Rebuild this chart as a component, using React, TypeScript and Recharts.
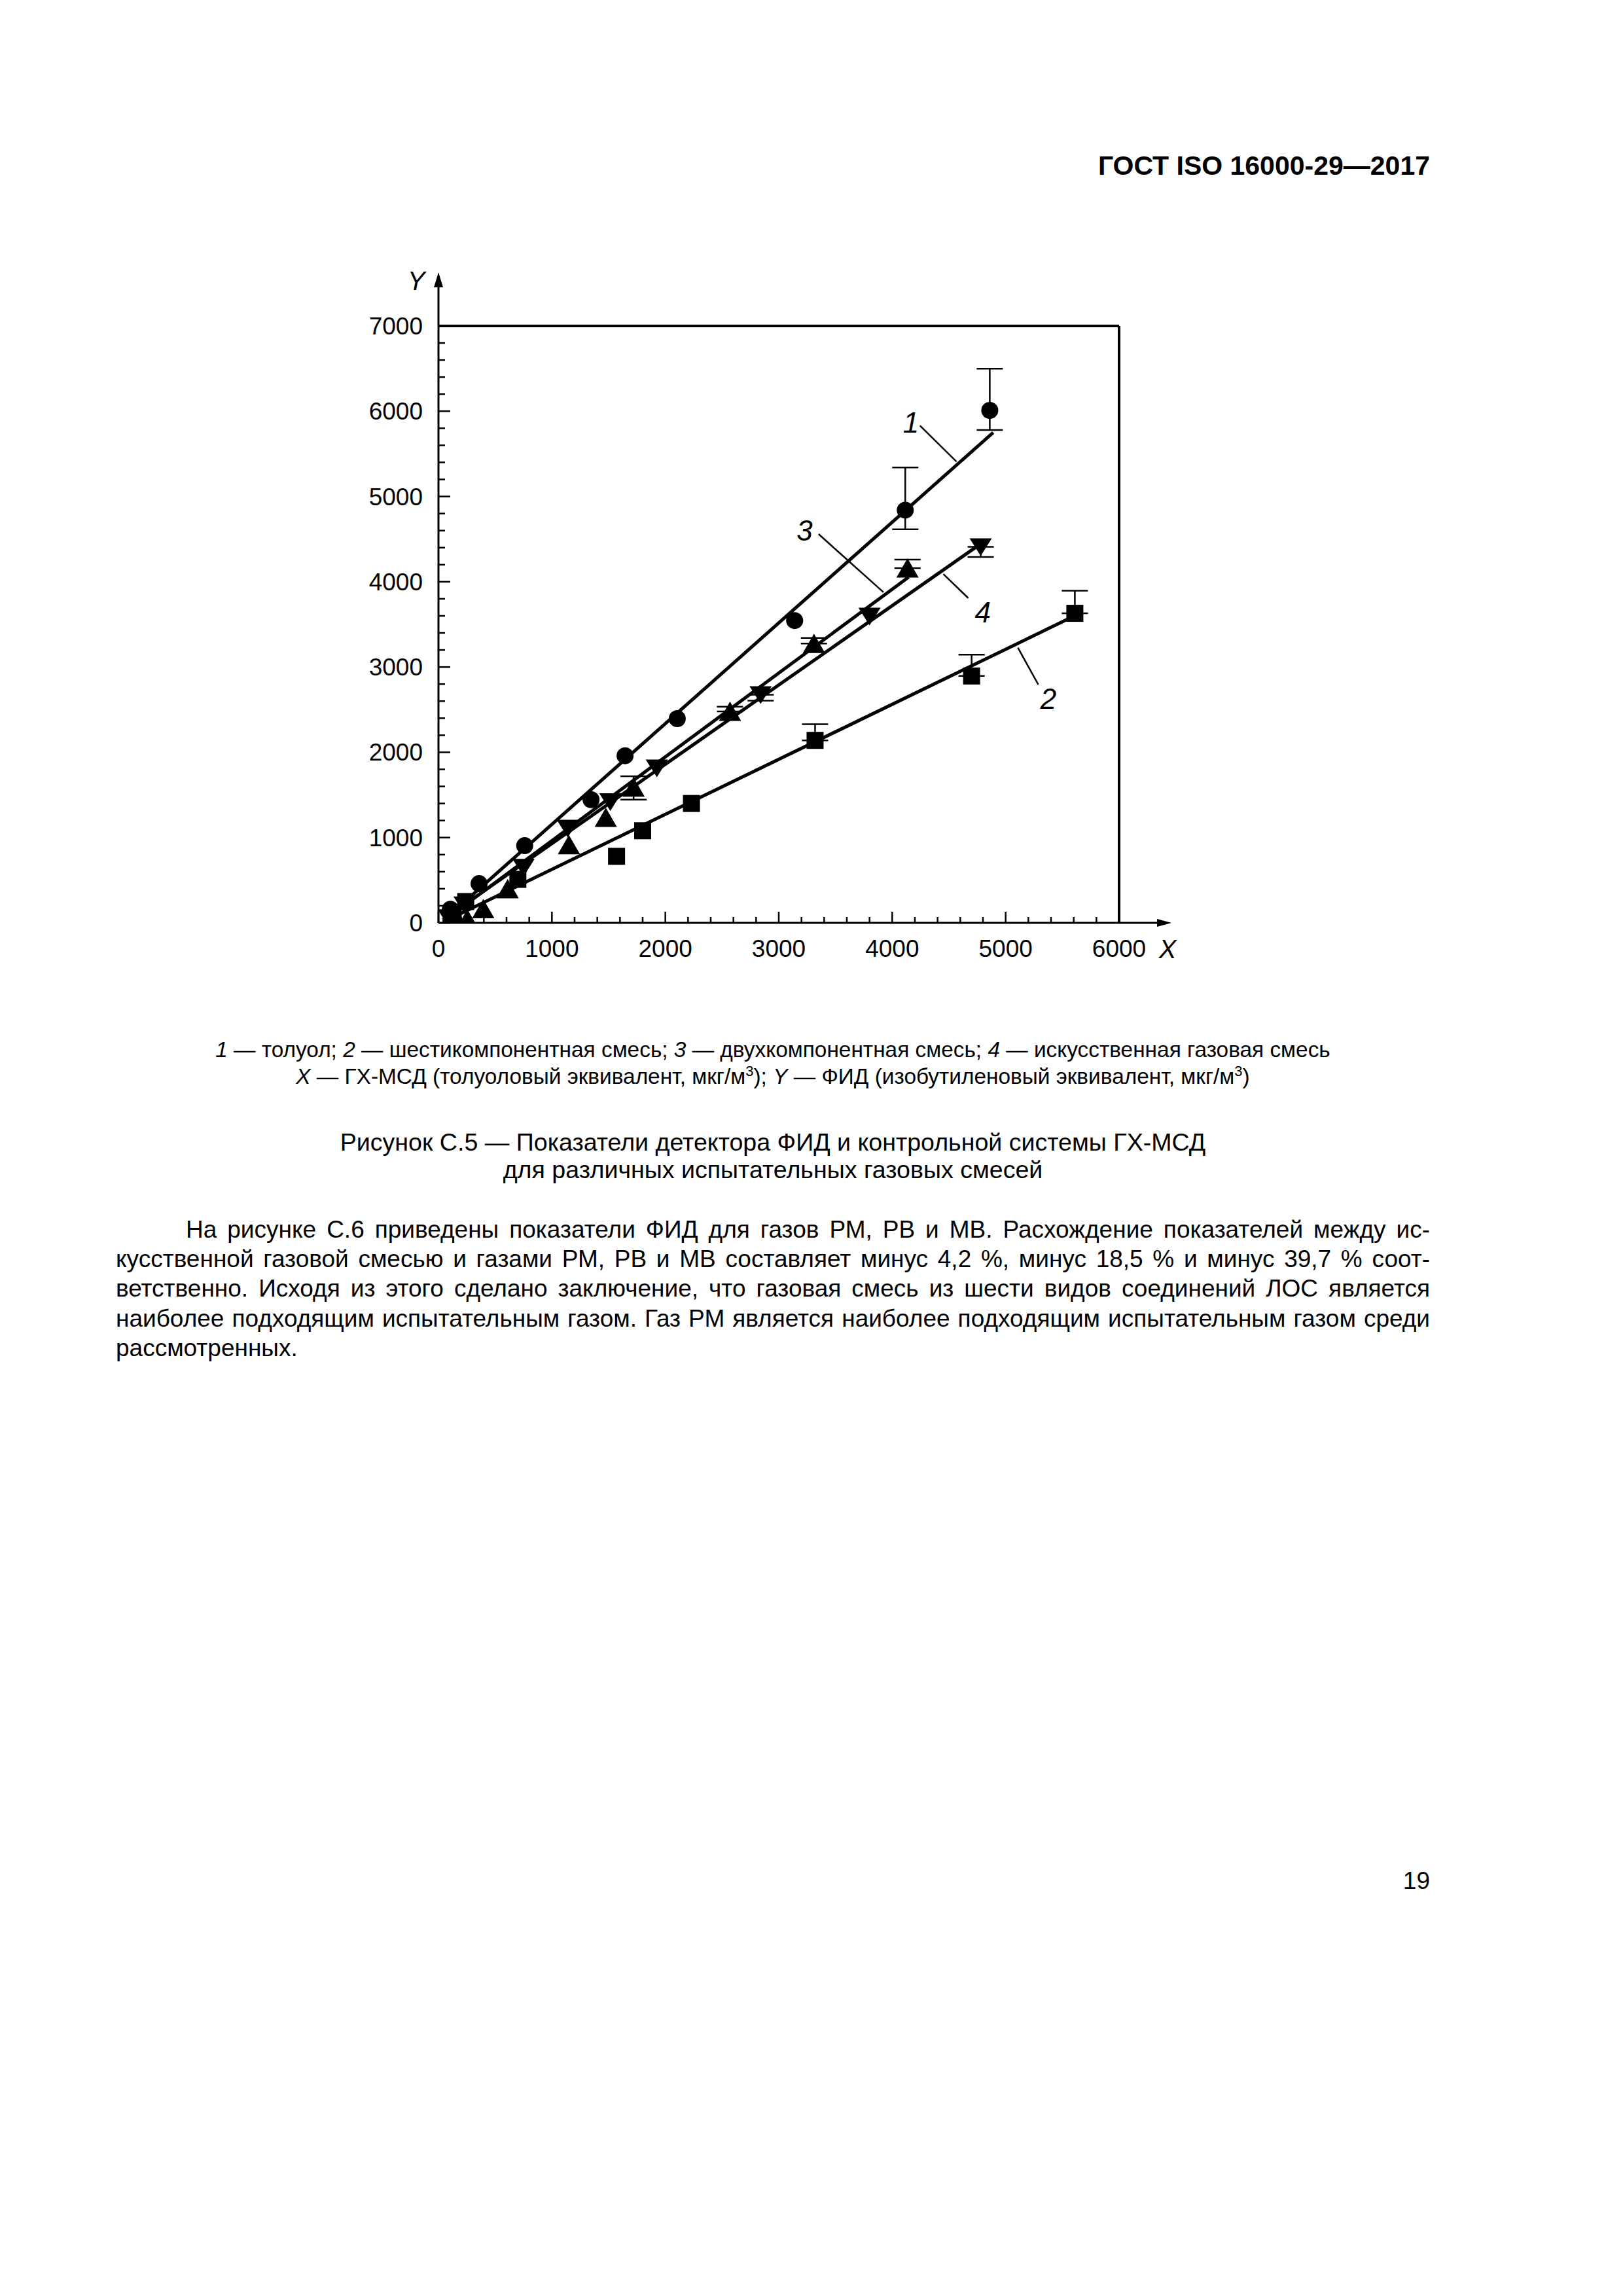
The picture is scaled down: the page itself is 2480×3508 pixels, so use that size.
import React from 'react';
import { ScatterChart, Scatter, XAxis, YAxis, ErrorBar, ReferenceLine } from 'recharts';

// 1 — толуол (circles)
const toluene = [
  { x: 105, y: 160 },
  { x: 358, y: 460 },
  { x: 760, y: 905 },
  { x: 1345, y: 1445 },
  { x: 1645, y: 1960 },
  { x: 2105, y: 2395 },
  { x: 3140, y: 3545 },
  { x: 4115, y: 4840, err: [225, 500] },
  { x: 4860, y: 6010, err: [230, 490] },
];

// 2 — шестикомпонентная смесь (squares)
const sixComp = [
  { x: 130, y: 90 },
  { x: 240, y: 250 },
  { x: 700, y: 510 },
  { x: 1570, y: 780 },
  { x: 1800, y: 1080 },
  { x: 2230, y: 1400 },
  { x: 3320, y: 2140, err: [0, 190] },
  { x: 4700, y: 2895, err: [0, 250] },
  { x: 5610, y: 3630, err: [0, 265] },
];

// 3 — двухкомпонентная смесь (triangles up)
const twoComp = [
  { x: 90, y: 20 },
  { x: 255, y: 45 },
  { x: 395, y: 165 },
  { x: 610, y: 400 },
  { x: 1150, y: 915 },
  { x: 1475, y: 1235 },
  { x: 1720, y: 1590, err: [145, 130] },
  { x: 2570, y: 2480, err: [0, 55] },
  { x: 3310, y: 3275, err: [0, 65] },
  { x: 4135, y: 4160, err: [0, 100] },
];

// 4 — искусственная газовая смесь (triangles down)
const artificial = [
  { x: 90, y: 60 },
  { x: 230, y: 210 },
  { x: 750, y: 650 },
  { x: 1140, y: 1110 },
  { x: 1515, y: 1420 },
  { x: 1925, y: 1815 },
  { x: 2840, y: 2675, err: [70, 0] },
  { x: 3800, y: 3595 },
  { x: 4780, y: 4410, err: [120, 0] },
];

// fitted straight lines
const fit1 = [{ x: 60, y: 45 }, { x: 4890, y: 5750 }];
const fit2 = [{ x: 40, y: 8 }, { x: 5600, y: 3595 }];
const fit3 = [{ x: 40, y: 20 }, { x: 4145, y: 4055 }];
const fit4 = [{ x: 40, y: 37 }, { x: 4780, y: 4445 }];

// curve numbers and leader lines
const callouts = [
  { x: 4165, y: 5871, label: '1' },
  { x: 5377, y: 2632, label: '2' },
  { x: 3228, y: 4605, label: '3' },
  { x: 4799, y: 3645, label: '4' },
];
const leaders = [
  [{ x: 4245, y: 5830 }, { x: 4567, y: 5409 }],
  [{ x: 5108, y: 3226 }, { x: 5288, y: 2794 }],
  [{ x: 3351, y: 4559 }, { x: 3923, y: 3877 }],
  [{ x: 4451, y: 4090 }, { x: 4670, y: 3809 }],
];

const xMajor = [0, 1000, 2000, 3000, 4000, 5000, 6000];
const yMajor = [0, 1000, 2000, 3000, 4000, 5000, 6000, 7000];
const minorStep = 200;
const xTicks: number[] = [];
for (let v = 0; v <= 6000; v += minorStep) xTicks.push(v);
const yTicks: number[] = [];
for (let v = 0; v <= 7000; v += minorStep) yTicks.push(v);

const bodyLines = [
  'На рисунке С.6 приведены показатели ФИД для газов РМ, РВ и МВ. Расхождение показателей между ис-',
  'кусственной газовой смесью и газами РМ, РВ и МВ составляет минус 4,2 %, минус 18,5 % и минус 39,7 % соот-',
  'ветственно. Исходя из этого сделано заключение, что газовая смесь из шести видов соединений ЛОС является',
  'наиболее подходящим испытательным газом. Газ РМ является наиболее подходящим испытательным газом среди',
  'рассмотренных.',
];

const FONT = '"Liberation Sans", Arial, sans-serif';

const XTick = (props: any) => {
  const { x, y, payload } = props;
  const major = xMajor.includes(payload.value);
  return (
    <g>
      <line x1={x} x2={x} y1={y} y2={y - (major ? 17 : 9)} stroke="#000" strokeWidth={2.5} />
      {major && (
        <text x={x} y={y + 52} textAnchor="middle" fontSize={37} fontFamily={FONT} fill="#000">
          {payload.value}
        </text>
      )}
    </g>
  );
};

const YTick = (props: any) => {
  const { x, y, payload } = props;
  const major = yMajor.includes(payload.value);
  return (
    <g>
      <line x1={x} x2={x + (major ? 18 : 10)} y1={y} y2={y} stroke="#000" strokeWidth={2.5} />
      {major && (
        <text x={x - 24} y={y + 13} textAnchor="end" fontSize={37} fontFamily={FONT} fill="#000">
          {payload.value}
        </text>
      )}
    </g>
  );
};

const marker = (kind: string) => (props: any) => {
  const { cx, cy } = props;
  if (cx == null || cy == null) return <g />;
  if (kind === 'circle') return <circle cx={cx} cy={cy} r={13} fill="#000" />;
  if (kind === 'square') return <rect x={cx - 13} y={cy - 13} width={26} height={26} fill="#000" />;
  if (kind === 'up')
    return <polygon points={`${cx},${cy - 15} ${cx - 17},${cy + 14.5} ${cx + 17},${cy + 14.5}`} fill="#000" />;
  return <polygon points={`${cx - 17},${cy - 13} ${cx + 17},${cy - 13} ${cx},${cy + 14}`} fill="#000" />;
};

const noMarker = () => <g />;

const calloutShape = (props: any) => (
  <text
    x={props.cx}
    y={props.cy + 16}
    textAnchor="middle"
    fontSize={44}
    fontStyle="italic"
    fontFamily={FONT}
    fill="#000"
  >
    {props.payload.label}
  </text>
);

// axis extension with arrow head and axis letter
const arrowShape = (dir: 'x' | 'y', letter: string) => (props: any) => {
  const { x1, y1, x2, y2 } = props;
  if (dir === 'y') {
    return (
      <g>
        <line x1={x1} y1={y1} x2={x2} y2={y2 + 20} stroke="#000" strokeWidth={3} />
        <polygon points={`${x2},${y2} ${x2 - 7},${y2 + 23} ${x2 + 7},${y2 + 23}`} fill="#000" />
        <text x={x2 - 34} y={y2 + 27} textAnchor="middle" fontSize={40} fontStyle="italic" fontFamily={FONT} fill="#000">
          {letter}
        </text>
      </g>
    );
  }
  return (
    <g>
      <line x1={x1} y1={y1} x2={x2 - 20} y2={y2} stroke="#000" strokeWidth={3} />
      <polygon points={`${x2},${y2} ${x2 - 22},${y2 - 6} ${x2 - 22},${y2 + 6}`} fill="#000" />
      <text x={x2 - 6} y={y2 + 54} textAnchor="middle" fontSize={40} fontStyle="italic" fontFamily={FONT} fill="#000">
        {letter}
      </text>
    </g>
  );
};

const ErrBar = (key: string) => (
  <ErrorBar dataKey={key} direction="y" width={20} strokeWidth={2.5} stroke="#000" />
);

const Chart = () => (
  <ScatterChart width={1400} height={1150} margin={{ top: 118, right: 190, bottom: 60, left: 70 }}>
    <XAxis
      type="number"
      dataKey="x"
      domain={[0, 6000]}
      ticks={xTicks}
      interval={0}
      allowDataOverflow
      height={60}
      tickSize={0}
      tickMargin={0}
      tickLine={false}
      axisLine={{ stroke: '#000', strokeWidth: 3 }}
      tick={<XTick />}
    />
    <YAxis
      type="number"
      dataKey="y"
      domain={[0, 7000]}
      ticks={yTicks}
      interval={0}
      allowDataOverflow
      width={100}
      tickSize={0}
      tickMargin={0}
      tickLine={false}
      axisLine={{ stroke: '#000', strokeWidth: 3 }}
      tick={<YTick />}
    />
    <ReferenceLine y={7000} stroke="#000" strokeWidth={4} ifOverflow="visible" />
    <ReferenceLine x={6000} stroke="#000" strokeWidth={4} ifOverflow="visible" />
    <ReferenceLine
      segment={[{ x: 0, y: 7000 }, { x: 0, y: 7629 }]}
      ifOverflow="visible"
      shape={arrowShape('y', 'Y')}
    />
    <ReferenceLine
      segment={[{ x: 6000, y: 0 }, { x: 6462, y: 0 }]}
      ifOverflow="visible"
      shape={arrowShape('x', 'X')}
    />
    {leaders.map((seg, i) => (
      <ReferenceLine key={i} segment={seg} stroke="#000" strokeWidth={2.5} ifOverflow="visible" />
    ))}

    <Scatter data={fit1} line={{ stroke: '#000', strokeWidth: 5 }} shape={noMarker} isAnimationActive={false} />
    <Scatter data={fit2} line={{ stroke: '#000', strokeWidth: 5 }} shape={noMarker} isAnimationActive={false} />
    <Scatter data={fit3} line={{ stroke: '#000', strokeWidth: 5 }} shape={noMarker} isAnimationActive={false} />
    <Scatter data={fit4} line={{ stroke: '#000', strokeWidth: 5 }} shape={noMarker} isAnimationActive={false} />

    <Scatter data={toluene} shape={marker('circle')} isAnimationActive={false}>
      {ErrBar('err')}
    </Scatter>
    <Scatter data={sixComp} shape={marker('square')} isAnimationActive={false}>
      {ErrBar('err')}
    </Scatter>
    <Scatter data={twoComp} shape={marker('up')} isAnimationActive={false}>
      {ErrBar('err')}
    </Scatter>
    <Scatter data={artificial} shape={marker('down')} isAnimationActive={false}>
      {ErrBar('err')}
    </Scatter>
    <Scatter data={callouts} shape={calloutShape} isAnimationActive={false} />
  </ScatterChart>
);

const sup = { fontSize: 22, position: 'relative' as const, top: -12 };

export default function App() {
  return (
    <div
      style={{
        position: 'absolute',
        left: 0,
        top: 0,
        width: 2480,
        height: 3508,
        background: '#fff',
        color: '#000',
        fontFamily: FONT,
      }}
    >
      <div
        style={{
          position: 'absolute',
          left: 0,
          width: 2185,
          top: 228,
          textAlign: 'right',
          fontWeight: 'bold',
          fontSize: 41,
          lineHeight: '50px',
          whiteSpace: 'nowrap',
        }}
      >
        ГОСТ ISO 16000-29—2017
      </div>

      <div style={{ position: 'absolute', left: 500, top: 380 }}>
        <Chart />
      </div>

      <div style={{ position: 'absolute', left: 0, width: 2362, top: 1583, textAlign: 'center', fontSize: 33.4, lineHeight: '41px', whiteSpace: 'nowrap' }}>
        <div style={{ height: 41 }}>
          <i>1</i> — толуол; <i>2</i> — шестикомпонентная смесь; <i>3</i> — двухкомпонентная смесь; <i>4</i> — искусственная газовая смесь
        </div>
        <div style={{ height: 41 }}>
          <i>X</i> — ГХ-МСД (толуоловый эквивалент, мкг/м<span style={sup}>3</span>); <i>Y</i> — ФИД (изобутиленовый эквивалент, мкг/м<span style={sup}>3</span>)
        </div>
      </div>

      <div style={{ position: 'absolute', left: 0, width: 2362, top: 1724, textAlign: 'center', fontSize: 37.6, lineHeight: '42px', whiteSpace: 'nowrap' }}>
        <div>Рисунок С.5 — Показатели детектора ФИД и контрольной системы ГХ-МСД</div>
        <div>для различных испытательных газовых смесей</div>
      </div>

      <div style={{ position: 'absolute', left: 177, width: 2008, top: 1856, fontSize: 37, lineHeight: '45.2px' }}>
        {bodyLines.map((t, i) => (
          <div
            key={i}
            style={{
              whiteSpace: 'nowrap',
              textAlign: i < bodyLines.length - 1 ? 'justify' : 'left',
              textAlignLast: i < bodyLines.length - 1 ? 'justify' : 'left',
              paddingLeft: i === 0 ? 107 : 0,
            }}
          >
            {t}
          </div>
        ))}
      </div>

      <div style={{ position: 'absolute', left: 0, width: 2185, top: 2852, textAlign: 'right', fontSize: 37, lineHeight: '44px' }}>
        19
      </div>
    </div>
  );
}
